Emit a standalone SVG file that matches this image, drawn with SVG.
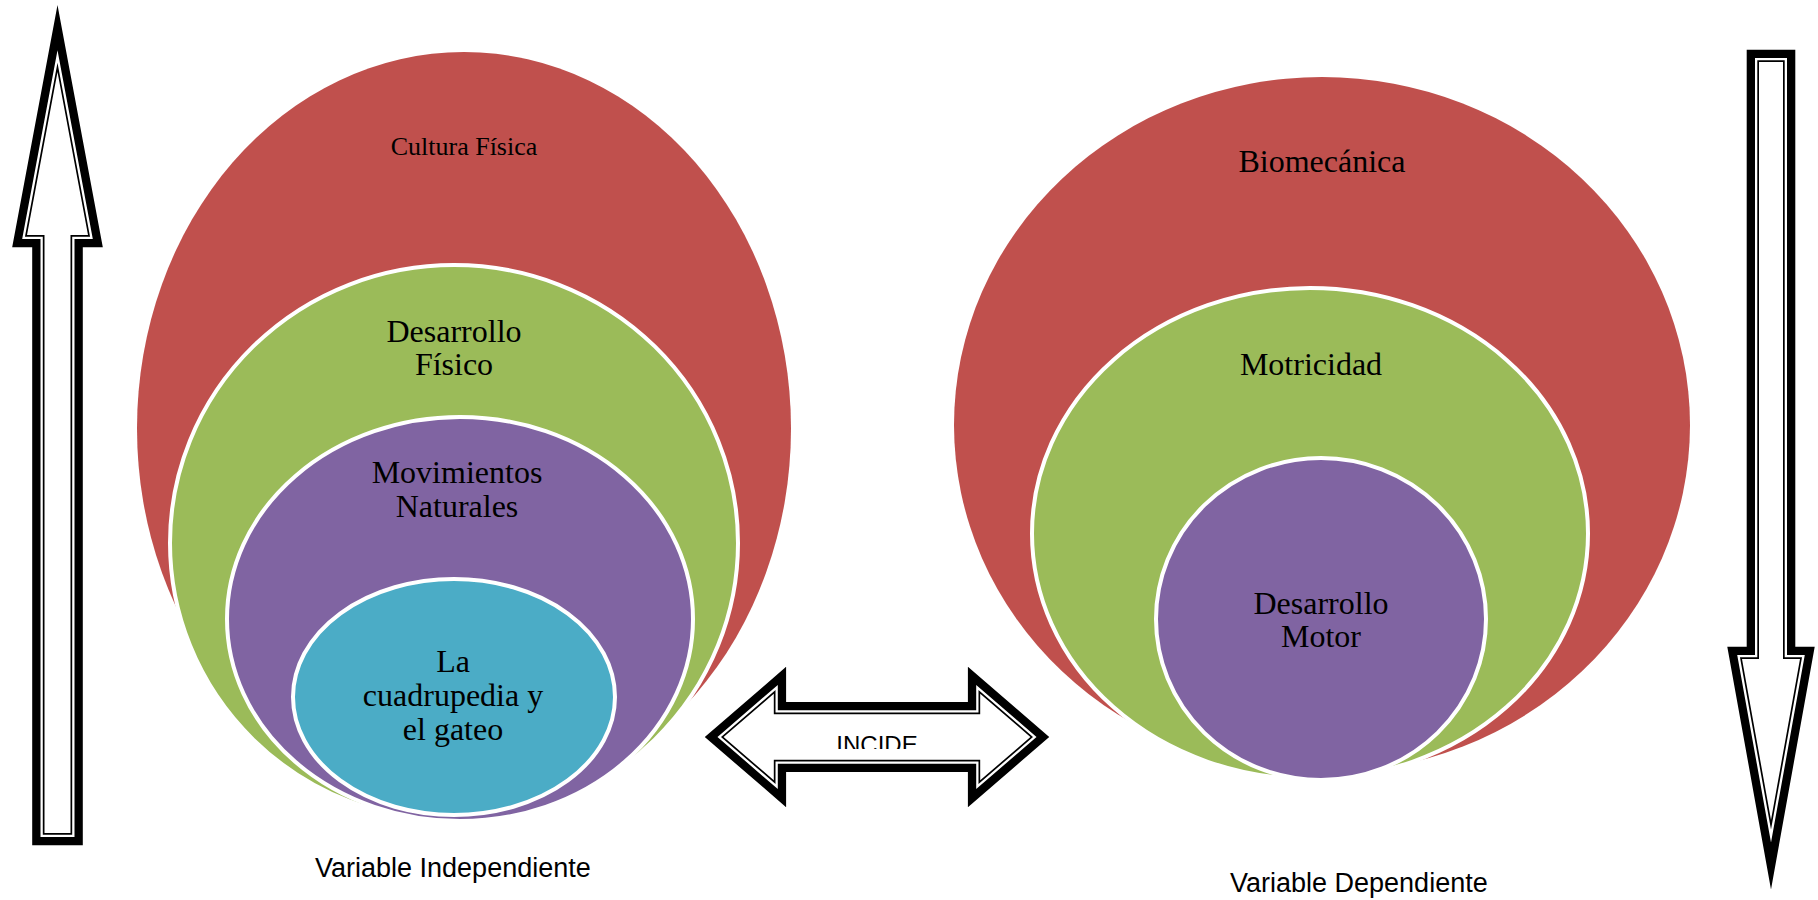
<svg xmlns="http://www.w3.org/2000/svg" xmlns:xlink="http://www.w3.org/1999/xlink" width="1818" height="900" viewBox="0 0 1818 900">
<style>
.red{fill:#C0504D}
.grn{fill:#9BBB59;stroke:#fff;stroke-width:4}
.pur{fill:#8064A2;stroke:#fff;stroke-width:4}
.blu{fill:#4BACC6;stroke:#fff;stroke-width:4}
.t{font-family:"Liberation Serif","Times New Roman",serif;fill:#000;text-anchor:middle}
.lbl{font-family:"Liberation Sans",Arial,sans-serif;fill:#000;font-size:27px}
.s1{fill:none;stroke:#000;stroke-width:24.6;stroke-linejoin:miter;stroke-miterlimit:12}
.s2{fill:none;stroke:#fff;stroke-width:8;stroke-linejoin:miter;stroke-miterlimit:12}
.s3{fill:none;stroke:#000;stroke-width:3.4;stroke-linejoin:miter;stroke-miterlimit:12}
.s4{fill:#fff;stroke:none}
</style>
<defs>
<path id="upA" d="M57.5,72 L88,235 L70.5,235 L70.5,833 L44.5,833 L44.5,235 L27,235 Z"/>
<path id="dnA" d="M1771,820 L1742,659 L1759,659 L1759,62 L1783,62 L1783,659 L1800,659 Z"/>
<path id="lrA" d="M723.6,737 L773.8,693.7 L773.8,714.2 L980.2,714.2 L980.2,693.7 L1030.4,737 L980.2,780.3 L980.2,759.8 L773.8,759.8 L773.8,780.3 Z"/>
<clipPath id="incClip"><rect x="780" y="700" width="200" height="49"/></clipPath>
</defs>

<g id="left-venn">
<g id="cultura-fisica">
<ellipse class="red" cx="464" cy="428.5" rx="327" ry="376.5"/>
<text class="t" x="464" y="155" font-size="26">Cultura Física</text>
</g>
<g id="desarrollo-fisico">
<ellipse class="grn" cx="454" cy="543" rx="284" ry="278"/>
<text class="t" x="454" y="342" font-size="32">Desarrollo</text>
<text class="t" x="454" y="375" font-size="32">Físico</text>
</g>
<g id="movimientos-naturales">
<ellipse class="pur" cx="460" cy="619" rx="233" ry="202"/>
<text class="t" x="457" y="483" font-size="32">Movimientos</text>
<text class="t" x="457" y="517" font-size="32">Naturales</text>
</g>
<g id="cuadrupedia">
<ellipse class="blu" cx="454" cy="697" rx="161" ry="118"/>
<text class="t" x="453" y="672" font-size="32">La</text>
<text class="t" x="453" y="706" font-size="32">cuadrupedia y</text>
<text class="t" x="453" y="740" font-size="32">el gateo</text>
</g>
</g>

<g id="right-venn">
<g id="biomecanica">
<ellipse class="red" cx="1322" cy="425" rx="368" ry="348"/>
<text class="t" x="1322" y="172" font-size="32">Biomecánica</text>
</g>
<g id="motricidad">
<ellipse class="grn" cx="1310" cy="533.5" rx="278" ry="245.5"/>
<text class="t" x="1311" y="375" font-size="32">Motricidad</text>
</g>
<g id="desarrollo-motor">
<ellipse class="pur" cx="1321" cy="619" rx="165" ry="161"/>
<text class="t" x="1321" y="614" font-size="32">Desarrollo</text>
<text class="t" x="1321" y="647" font-size="32">Motor</text>
</g>
</g>

<g id="connectors">
<g id="arrow-up">
<use xlink:href="#upA" class="s1"/><use xlink:href="#upA" class="s2"/><use xlink:href="#upA" class="s3"/><use xlink:href="#upA" class="s4"/>
</g>
<g id="arrow-down">
<use xlink:href="#dnA" class="s1"/><use xlink:href="#dnA" class="s2"/><use xlink:href="#dnA" class="s3"/><use xlink:href="#dnA" class="s4"/>
</g>
<g id="arrow-incide">
<use xlink:href="#lrA" class="s1"/><use xlink:href="#lrA" class="s2"/><use xlink:href="#lrA" class="s3"/><use xlink:href="#lrA" class="s4"/>
<text clip-path="url(#incClip)" x="877" y="753" font-family="Liberation Sans, Arial, sans-serif" font-size="24" text-anchor="middle" fill="#000">INCIDE</text>
</g>
</g>

<g id="labels">
<text class="lbl" x="315" y="877">Variable Independiente</text>
<text class="lbl" x="1230" y="892">Variable Dependiente</text>
</g>
</svg>
